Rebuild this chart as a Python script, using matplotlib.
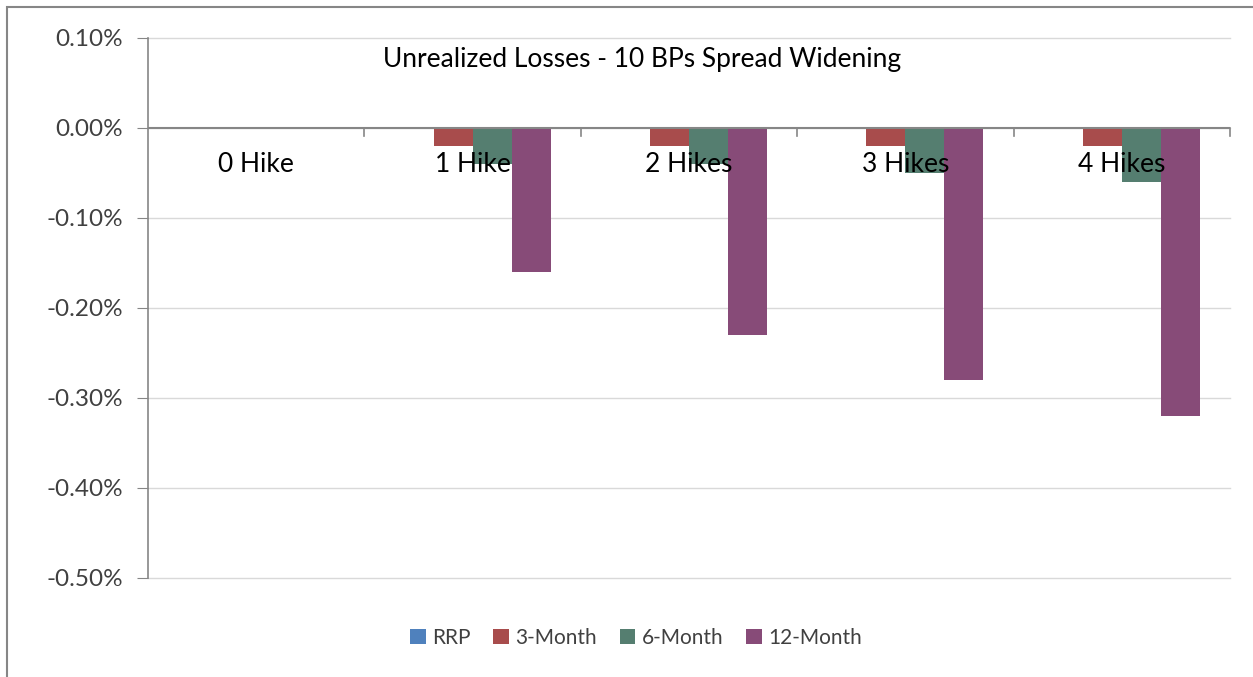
import matplotlib
matplotlib.use("Agg")
import matplotlib.pyplot as plt
from matplotlib.patches import Rectangle
from matplotlib.ticker import FuncFormatter, FixedLocator
import numpy as np

plt.rcParams['font.family'] = ['Lato', 'DejaVu Sans']

categories = ["0 Hike", "1 Hike", "2 Hikes", "3 Hikes", "4 Hikes"]
series_names = ["RRP", "3-Month", "6-Month", "12-Month"]
rrp = [0.0, 0.0, 0.0, 0.0, 0.0]
m3 = [0.0, -0.02, -0.02, -0.02, -0.02]
m6 = [0.0, -0.04, -0.04, -0.05, -0.06]
m12 = [0.0, -0.16, -0.23, -0.28, -0.32]
colors = ["#4F81BD", "#A84C4C", "#557E70", "#874B78"]
title = "Unrealized Losses - 10 BPs Spread Widening"
yticks = [0.10, 0.0, -0.10, -0.20, -0.30, -0.40, -0.50]

W, H = 1253, 677
fig = plt.figure(figsize=(W/100, H/100), dpi=100)
ax = fig.add_axes([148/W, 1-578/H, (1230-148)/W, (578-38)/H])

x = np.arange(len(categories))
bw = 0.18
for i, (vals, name, c) in enumerate(zip([rrp, m3, m6, m12], series_names, colors)):
    ax.bar(x + (i-1.5)*bw, vals, width=bw, color=c, label=name, zorder=3)

ax.set_xlim(-0.5, len(categories)-0.5)
ax.set_ylim(-0.50, 0.10)
ax.yaxis.set_major_locator(FixedLocator(yticks))
ax.yaxis.set_major_formatter(FuncFormatter(lambda v, p: f"{v:.2f}%"))
ax.grid(axis='y', color='#D9D9D9', linewidth=1, zorder=0)
for gl in ax.get_ygridlines():
    gl.set_clip_on(False)
ax.tick_params(axis='y', length=8, color='#868686', labelsize=17.5, labelcolor='#404040', pad=10)

for s in ['top', 'right', 'bottom']:
    ax.spines[s].set_visible(False)
ax.spines['left'].set_color('#868686')
ax.spines['left'].set_linewidth(1.2)

# x axis at zero
ax.axhline(0, color='#868686', linewidth=1.5, zorder=4)
ax.set_xticks([])
for b in np.arange(0.5, len(categories), 1.0):
    ax.plot([b, b], [0, -0.009], color='#868686', linewidth=1.2, zorder=4, clip_on=False)

for xi, lab in zip(x, categories):
    ax.text(xi, -0.041, lab, ha='center', va='center', fontsize=19, color='black', zorder=5)

fig.text(642/W, 1-60/H, title, ha='center', va='center', fontsize=19, color='black')

leg = fig.legend(loc='center', bbox_to_anchor=(636/W, 1-638/H), ncol=4, frameon=False,
                 fontsize=15, handlelength=0.75, handleheight=0.75,
                 handletextpad=0.3, columnspacing=1.1)
for t in leg.get_texts():
    t.set_color('#404040')

fig.patches.append(Rectangle((7/W, -0.05), 1.2, 1-7/H+0.05, transform=fig.transFigure,
                             fill=False, edgecolor='#868686', linewidth=1.5))

fig.savefig("out.png", dpi=100)
